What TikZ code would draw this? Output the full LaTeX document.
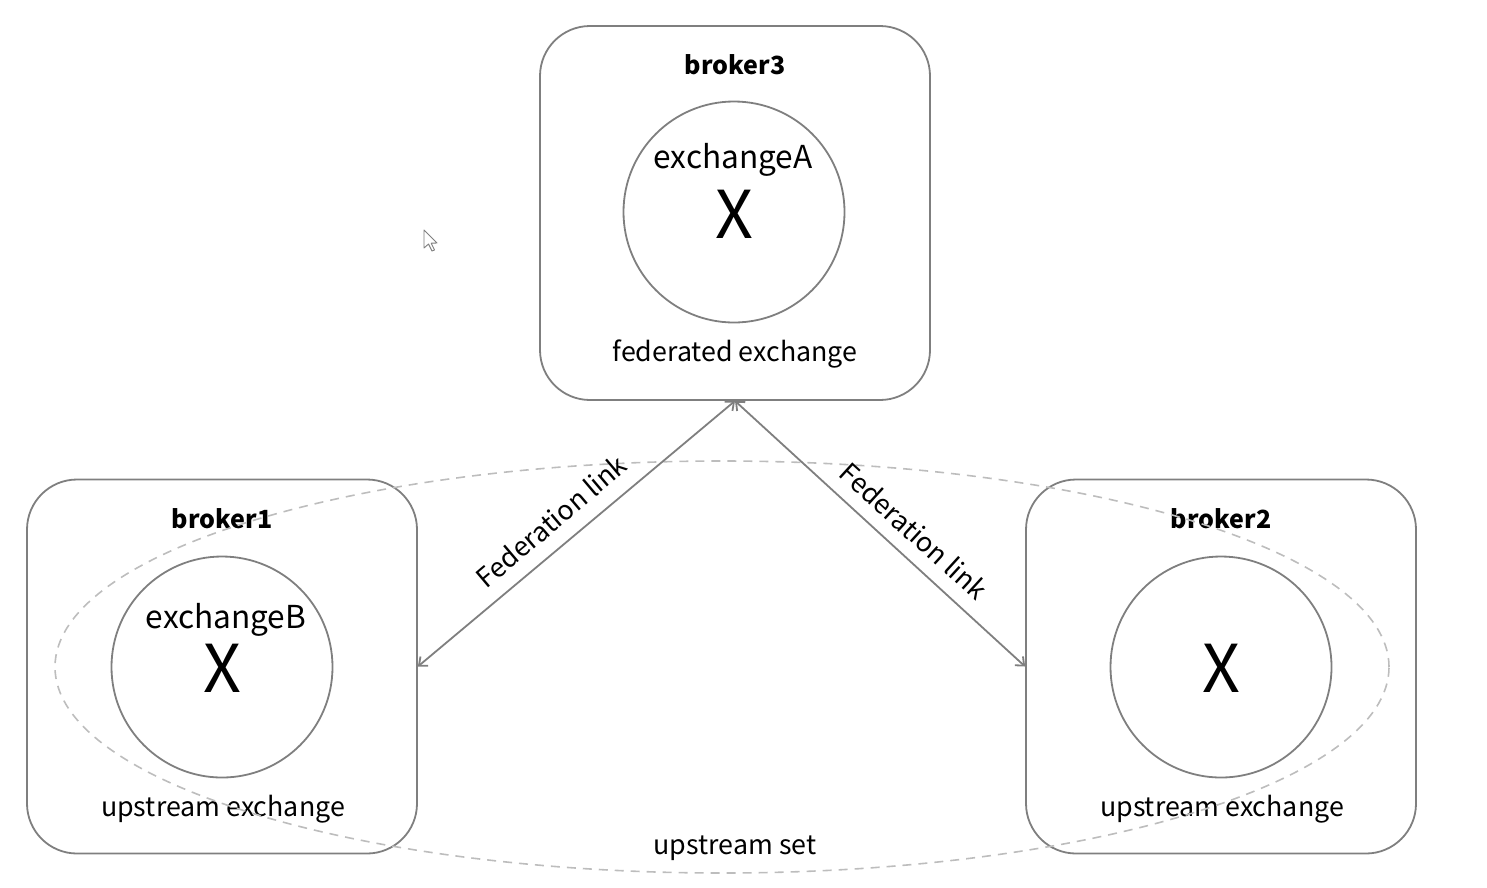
\documentclass[tikz,border=0pt]{standalone}
\usepackage{fontspec}
\setmainfont{Noto Sans CJK SC}
\usetikzlibrary{arrows.meta,shapes.geometric}
\definecolor{linegray}{HTML}{7F7F7F}
\definecolor{dashgray}{HTML}{BDBDBD}
\tikzset{
  broker/.style={draw=linegray, line width=1.8pt, rounded corners=50pt, minimum width=390pt, minimum height=374pt, inner sep=0pt},
  exch/.style={draw=linegray, line width=1.8pt, circle, minimum size=221pt, inner sep=0pt},
  title/.style={font=\fontsize{25}{30}\selectfont\bfseries, text=black},
  lbl/.style={font=\fontsize{26.8}{30}\selectfont, text=black},
  exname/.style={font=\fontsize{31.6}{36}\selectfont, text=black},
  bigx/.style={font=\fontsize{66}{72}\selectfont, text=black},
  fedlink/.style={draw=linegray, line width=1.8pt, {Straight Barb[length=7pt,width=12pt]}-{Straight Barb[length=7pt,width=12pt]}},
  setline/.style={draw=dashgray, line width=1.6pt, dash pattern=on 9pt off 7pt},
}
\begin{document}
\begin{tikzpicture}[x=1pt,y=-1pt]
\useasboundingbox (0,0) rectangle (1487,887);
% brokers
\node[broker] (b3) at (735,213) {};
\node[broker] (b1) at (222,666.5) {};
\node[broker] (b2) at (1221,666.5) {};
% exchanges
\node[exch] (xa) at (734,212) {};
\node[exch] (xb) at (222,667) {};
\node[exch] (xc) at (1221,667) {};
% texts
\node[title] (t3) at (735,65) {broker3};
\node[title] (t1) at (222,519) {broker1};
\node[title] (t2) at (1221,519) {broker2};
\node[exname] (na) at (733,160) {exchangeA};
\node[exname] (nb) at (226,620) {exchangeB};
\node[bigx] (xxa) at (734,214) {X};
\node[bigx] (xxb) at (222,668) {X};
\node[bigx] (xxc) at (1221,668) {X};
\node[lbl] (fa) at (735,354) {federated exchange};
\node[lbl] (ub) at (223,809) {upstream exchange};
\node[lbl] (uc) at (1222,809) {upstream exchange};
% upstream set
\node[setline, ellipse, minimum width=1334pt, minimum height=412pt, inner sep=0pt] (set) at (722,667) {};
\node[lbl] (us) at (735,848) {upstream set};
% federation links
\draw[fedlink] (b1.east) -- (b3.south);
\draw[fedlink] (b3.south) -- (b2.west);
\node[lbl, rotate=40.2] (fl1) at (551,521) {Federation link};
\node[lbl, rotate=-42.4] (fl2) at (914,531) {Federation link};
% mouse cursor
\draw[line width=0.9pt, draw=linegray, fill=white, line join=round] (424,230) -- (424,248) -- (428.5,244) -- (432,251) -- (434.5,250) -- (431.2,243.2) -- (437,243) -- cycle;
\end{tikzpicture}
\end{document}
